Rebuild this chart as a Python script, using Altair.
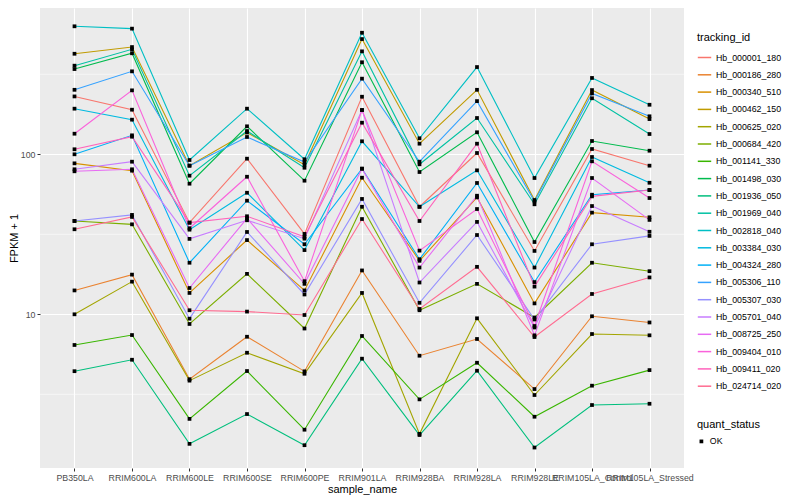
import altair as alt
import pandas as pd

samples = ["PB350LA", "RRIM600LA", "RRIM600LE", "RRIM600SE", "RRIM600PE", "RRIM901LA",
           "RRIM928BA", "RRIM928LA", "RRIM928LE", "RRIM105LA_Control", "RRIM105LA_Stressed"]

tracking_ids = ["Hb_000001_180", "Hb_000186_280", "Hb_000340_510", "Hb_000462_150", "Hb_000625_020",
                "Hb_000684_420", "Hb_001141_330", "Hb_001498_030", "Hb_001936_050", "Hb_001969_040",
                "Hb_002818_040", "Hb_003384_030", "Hb_004324_280", "Hb_005306_110", "Hb_005307_030",
                "Hb_005701_040", "Hb_008725_250", "Hb_009404_010", "Hb_009411_020", "Hb_024714_020"]

# FPKM + 1 values, one list per tracking_id, in sample order
Hb_000001_180 = [230, 190, 37.4, 93.9, 31.8, 229, 47.0, 101.9, 24.9, 107.9, 84.9]
Hb_000186_280 = [14.1, 17.7, 3.93, 7.24, 4.40, 18.8, 5.51, 7.01, 3.41, 9.72, 8.89]
Hb_000340_510 = [87.8, 79.0, 13.6, 29.1, 14.1, 71.4, 21.6, 53.8, 11.7, 43.2, 40.4]
Hb_000462_150 = [425, 468, 84.9, 136.8, 86.1, 525, 116.5, 253, 51.8, 252, 166]
Hb_000625_020 = [10.0, 16.0, 3.85, 5.75, 4.25, 13.6, 1.79, 9.44, 3.13, 7.53, 7.39]
Hb_000684_420 = [38.3, 36.5, 8.70, 17.9, 8.15, 47.0, 10.6, 15.5, 9.55, 21.0, 18.6]
Hb_001141_330 = [6.43, 7.42, 2.22, 4.42, 1.90, 7.32, 2.94, 4.98, 2.29, 3.58, 4.48]
Hb_001498_030 = [341, 428, 65.5, 149.6, 68.4, 376, 77.5, 137.3, 28.3, 121.1, 105.3]
Hb_001936_050 = [4.41, 5.20, 1.55, 2.38, 1.52, 5.28, 1.76, 4.44, 1.47, 2.71, 2.76]
Hb_001969_040 = [358, 453, 73.5, 139.8, 82.4, 440, 86.6, 168.6, 48.7, 224, 133.9]
Hb_002818_040 = [631, 610, 92.1, 192.8, 93.1, 575, 125.9, 351, 71.1, 300, 204]
Hb_003384_030 = [192.8, 164.6, 33.8, 57.5, 25.2, 120.6, 47.0, 79.4, 19.6, 96.2, 66.4]
Hb_004324_280 = [100, 131.4, 21.0, 51.3, 27.4, 81.3, 22.1, 66.2, 15.9, 55.9, 59.8]
Hb_005306_110 = [253, 330, 84.9, 128.3, 89.5, 297, 89.9, 215, 50.8, 240, 172.8]
Hb_005307_030 = [38.3, 41.8, 9.39, 32.7, 13.3, 52.6, 11.8, 31.3, 9.28, 27.4, 30.9]
Hb_005701_040 = [80.6, 89.9, 29.6, 38.7, 29.7, 189, 15.8, 37.8, 8.27, 47.5, 32.8]
Hb_008725_250 = [78.3, 80.6, 14.6, 39.8, 15.5, 81.3, 19.6, 55.1, 7.39, 71.1, 38.9]
Hb_009404_010 = [134.5, 251, 34.5, 72.4, 16.1, 189, 25.0, 45.5, 8.45, 90.4, 53.3]
Hb_009411_020 = [107.5, 128.8, 37.4, 41.0, 30.5, 157.6, 38.3, 116.5, 14.9, 54.6, 59.8]
Hb_024714_020 = [34.0, 40.6, 10.6, 10.4, 9.90, 39.4, 10.8, 19.8, 7.21, 13.4, 17.0]

series = [Hb_000001_180, Hb_000186_280, Hb_000340_510, Hb_000462_150, Hb_000625_020,
          Hb_000684_420, Hb_001141_330, Hb_001498_030, Hb_001936_050, Hb_001969_040,
          Hb_002818_040, Hb_003384_030, Hb_004324_280, Hb_005306_110, Hb_005307_030,
          Hb_005701_040, Hb_008725_250, Hb_009404_010, Hb_009411_020, Hb_024714_020]

palette = ["#F8766D", "#EA8331", "#D89000", "#C09B00", "#A3A500", "#7CAE00", "#39B600",
           "#00BB4E", "#00BF7D", "#00C1A3", "#00BFC4", "#00BAE0", "#00B0F6", "#35A2FF",
           "#9590FF", "#C77CFF", "#E76BF3", "#FA62DB", "#FF62BC", "#FF6C91"]

y_major = [10, 100]
y_minor = [3.1623, 31.623, 316.23]

rows = []
for tid, vals in zip(tracking_ids, series):
    for s, v in zip(samples, vals):
        rows.append({"sample_name": s, "tracking_id": tid, "fpkm1": v, "quant_status": "OK"})
df = pd.DataFrame(rows)
minor_df = pd.DataFrame({"v": y_minor})

FONT = "Liberation Sans"
yscale = alt.Scale(type="log", domain=[1.095, 821], nice=False, zero=False)
xscale = alt.Scale(type="point", padding=0.6)

minor = alt.Chart(minor_df).mark_rule(color="white", strokeWidth=0.55).encode(
    y=alt.Y("v:Q", scale=yscale)
)

lines = alt.Chart(df).mark_line(strokeWidth=1.1).encode(
    x=alt.X("sample_name:N", sort=samples, scale=xscale,
            axis=alt.Axis(title="sample_name", labelAngle=0, labelOverlap=False,
                          grid=True, gridColor="white", gridWidth=1.1, domain=False,
                          tickColor="#333333", tickSize=3, labelPadding=2,
                          labelColor="#4D4D4D", labelFontSize=8.8, labelFont=FONT,
                          titleFont=FONT, titleFontSize=11, titleFontWeight="normal",
                          titleColor="black", titlePadding=2)),
    y=alt.Y("fpkm1:Q", scale=yscale,
            axis=alt.Axis(title="FPKM + 1", values=y_major, format="d",
                          grid=True, gridColor="white", gridWidth=1.1, domain=False,
                          tickColor="#333333", tickSize=3, labelPadding=2,
                          labelColor="#4D4D4D", labelFontSize=8.8, labelFont=FONT,
                          titleFont=FONT, titleFontSize=11, titleFontWeight="normal",
                          titleColor="black", titlePadding=1)),
    color=alt.Color("tracking_id:N", sort=tracking_ids,
                    scale=alt.Scale(domain=tracking_ids, range=palette),
                    legend=alt.Legend(title="tracking_id", orient="none", legendX=657, legendY=24,
                                      symbolType="stroke", symbolStrokeWidth=1.5, symbolSize=180,
                                      labelFontSize=8.8, labelFont=FONT, labelColor="black",
                                      titleFont=FONT, titleFontSize=11, titleFontWeight="normal",
                                      titleColor="black", rowPadding=4.3, symbolLimit=40,
                                      titlePadding=7)),
    detail="tracking_id:N",
)

points = alt.Chart(df).mark_point(filled=True, size=14, opacity=1, color="black").encode(
    x=alt.X("sample_name:N", sort=samples, scale=xscale),
    y=alt.Y("fpkm1:Q", scale=yscale),
    shape=alt.Shape("quant_status:N", scale=alt.Scale(range=["square"]),
                    legend=alt.Legend(title="quant_status", orient="none", legendX=657, legendY=411,
                                      symbolFillColor="black", symbolStrokeColor="black", symbolSize=14,
                                      labelFontSize=8.8, labelFont=FONT, labelColor="black",
                                      titleFont=FONT, titleFontSize=11, titleFontWeight="normal",
                                      titleColor="black", titlePadding=7)),
)

chart = alt.layer(minor, lines, points).properties(
    width=644, height=460,
    autosize=alt.AutoSizeParams(type="none"),
    padding={"left": 32, "top": 0, "right": 108, "bottom": 28},
    background="white",
).configure_view(fill="#EBEBEB", stroke=None)

chart.save("out.html", embed_options={"renderer": "svg", "actions": False})
